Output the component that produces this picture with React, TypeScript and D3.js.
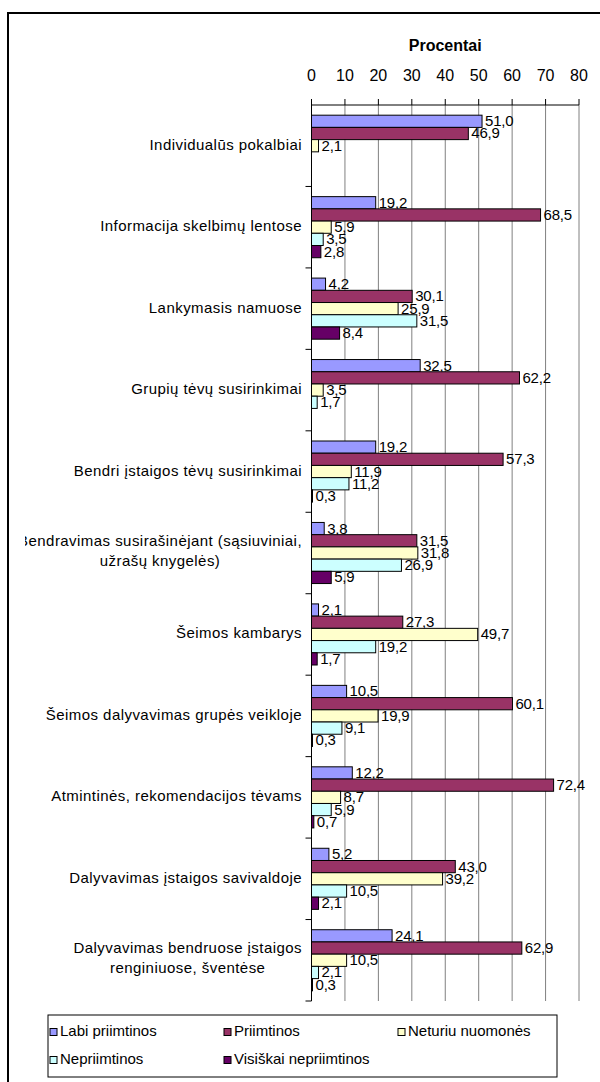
import React from 'react';
import * as d3 from 'd3';

// categories (multi-line labels split into lines)
const categories: string[][] = [
  ['Individualūs pokalbiai'],
  ['Informacija skelbimų lentose'],
  ['Lankymasis namuose'],
  ['Grupių tėvų susirinkimai'],
  ['Bendri įstaigos tėvų susirinkimai'],
  ['Bendravimas susirašinėjant (sąsiuviniai,', 'užrašų knygelės)'],
  ['Šeimos kambarys'],
  ['Šeimos dalyvavimas grupės veikloje'],
  ['Atmintinės, rekomendacijos tėvams'],
  ['Dalyvavimas įstaigos savivaldoje'],
  ['Dalyvavimas bendruose įstaigos', 'renginiuose, šventėse'],
];

const seriesNames = ['Labi priimtinos', 'Priimtinos', 'Neturiu nuomonės', 'Nepriimtinos', 'Visiškai nepriimtinos'];

const labiPriimtinos = [51.0, 19.2, 4.2, 32.5, 19.2, 3.8, 2.1, 10.5, 12.2, 5.2, 24.1];
const priimtinos = [46.9, 68.5, 30.1, 62.2, 57.3, 31.5, 27.3, 60.1, 72.4, 43.0, 62.9];
const neturiuNuomones = [2.1, 5.9, 25.9, 3.5, 11.9, 31.8, 49.7, 19.9, 8.7, 39.2, 10.5];
const nepriimtinos: (number | null)[] = [null, 3.5, 31.5, 1.7, 11.2, 26.9, 19.2, 9.1, 5.9, 10.5, 2.1];
const visiskaiNepriimtinos: (number | null)[] = [null, 2.8, 8.4, null, 0.3, 5.9, 1.7, 0.3, 0.7, 2.1, 0.3];

const xTicks = [0, 10, 20, 30, 40, 50, 60, 70, 80];

const colors = ['#9999FF', '#993366', '#FFFFCC', '#CCFFFF', '#660066'];

const allSeries = [labiPriimtinos, priimtinos, neturiuNuomones, nepriimtinos, visiskaiNepriimtinos];

const FONT = "'Liberation Sans', Arial, sans-serif";
const LABEL_SPACING = 0.45;

function measure(text: string, size: number, spacing: number) {
  const ctx = document.createElement('canvas').getContext('2d');
  if (!ctx) return text.length * size * 0.5;
  ctx.font = `${size}px ${FONT}`;
  return ctx.measureText(text).width + spacing * text.length;
}

export default function App() {
  const width = 600;
  const height = 1082;
  const plot = { left: 311.5, right: 579, top: 105, bottom: 1001 };

  const x = d3.scaleLinear().domain([0, 80]).range([plot.left, plot.right]);
  const y = d3.scaleBand<number>()
    .domain(d3.range(categories.length))
    .range([plot.top, plot.bottom])
    .paddingInner(0.25)
    .paddingOuter(0.125);
  const inner = d3.scaleBand<number>().domain(d3.range(seriesNames.length)).range([0, y.bandwidth()]);
  const step = (plot.bottom - plot.top) / categories.length;
  const boundaries = d3.range(categories.length + 1).map(i => plot.top + i * step);

  const labelRight = 302;

  return (
    <div style={{ position: 'absolute', left: 0, top: 0 }}>
      <svg width={width} height={height} style={{ display: 'block', fontFamily: FONT }}>
        <defs>
          <clipPath id="lbl-clip">
            <rect x={25} y={0} width={width} height={height} />
          </clipPath>
        </defs>
        <rect x={0} y={0} width={width} height={height} fill="#fff" />
        <rect x={8} y={13} width={width + 20} height={height + 20} fill="none" stroke="#000" strokeWidth={2} />

        {/* title */}
        <text x={(plot.left + plot.right) / 2} y={47} textAnchor="middle" dominantBaseline="middle"
          fontSize={16} fontWeight="bold">Procentai</text>

        {/* gridlines */}
        {xTicks.slice(1).map(t => (
          <line key={t} x1={x(t)} x2={x(t)} y1={plot.top} y2={plot.bottom} stroke="#808080" strokeWidth={1} />
        ))}

        {/* top axis */}
        <line x1={plot.left} x2={plot.right} y1={plot.top} y2={plot.top} stroke="#000" />
        {xTicks.map(t => (
          <g key={t}>
            <line x1={x(t)} x2={x(t)} y1={plot.top - 6} y2={plot.top} stroke="#000" />
            <text x={x(t)} y={77} textAnchor="middle" dominantBaseline="middle" fontSize={16}>{t}</text>
          </g>
        ))}

        {/* bars */}
        {categories.map((_, ci) => (
          <g key={ci} transform={`translate(0,${y(ci)})`}>
            {allSeries.map((s, si) => {
              const v = s[ci];
              if (v == null) return null;
              const by = inner(si) as number;
              const bh = inner.bandwidth();
              return (
                <g key={si}>
                  <rect x={x(0)} y={by} width={x(v) - x(0)} height={bh} fill={colors[si]} stroke="#000" strokeWidth={1} />
                  <text x={x(v) + 3} y={by + bh / 2 + 1} dominantBaseline="middle" fontSize={15} letterSpacing={-0.2}>
                    {v.toFixed(1).replace('.', ',')}
                  </text>
                </g>
              );
            })}
          </g>
        ))}

        {/* left axis */}
        <line x1={plot.left} x2={plot.left} y1={plot.top} y2={plot.bottom} stroke="#000" />
        {boundaries.slice(1).map((b, i) => (
          <line key={i} x1={plot.left - 6} x2={plot.left} y1={b} y2={b} stroke="#000" />
        ))}

        {/* category labels */}
        <g clipPath="url(#lbl-clip)">
          {categories.map((lines, ci) => {
            const c = (y(ci) as number) + y.bandwidth() / 2;
            if (lines.length === 1) {
              return (
                <text key={ci} x={labelRight} y={c} textAnchor="end" dominantBaseline="middle" fontSize={15}
                  letterSpacing={LABEL_SPACING}>
                  {lines[0]}
                </text>
              );
            }
            const w = Math.max(...lines.map(l => measure(l, 15, LABEL_SPACING)));
            const cx = labelRight - w / 2;
            return (
              <g key={ci}>
                {lines.map((l, li) => (
                  <text key={li} x={cx} y={c - 11 + li * 20} textAnchor="middle" dominantBaseline="middle" fontSize={15}
                    letterSpacing={LABEL_SPACING}>
                    {l}
                  </text>
                ))}
              </g>
            );
          })}
        </g>

        {/* legend */}
        <rect x={48} y={1015} width={509} height={62} fill="#fff" stroke="#000" strokeWidth={1} />
        {seriesNames.map((name, i) => {
          const col = i % 3;
          const row = Math.floor(i / 3);
          const lx = 50 + col * 174;
          const ly = 1032 + row * 28;
          return (
            <g key={name}>
              <rect x={lx} y={ly - 3.5} width={7} height={7} fill={colors[i]} stroke="#000" strokeWidth={1} />
              <text x={lx + 10} y={ly} dominantBaseline="middle" fontSize={15}>{name}</text>
            </g>
          );
        })}
      </svg>
    </div>
  );
}
